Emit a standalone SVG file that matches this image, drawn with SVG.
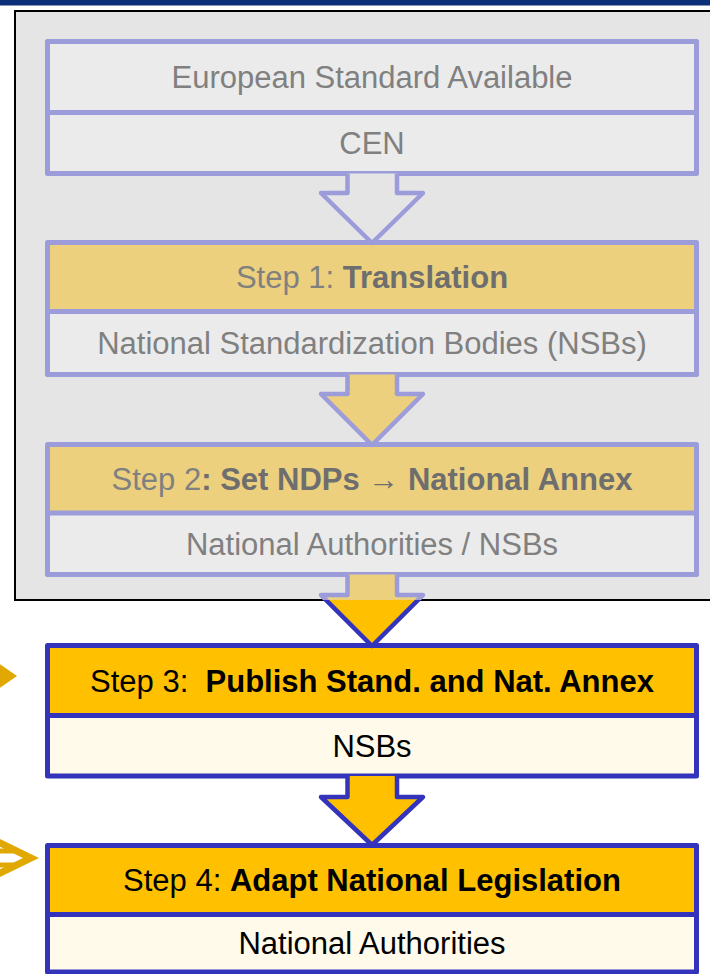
<svg xmlns="http://www.w3.org/2000/svg" width="710" height="974" viewBox="0 0 710 974">
<style>
text{font-family:"Liberation Sans",Arial,sans-serif;font-size:31px;text-anchor:middle;white-space:pre}
.b{font-weight:bold}
.ft{fill:#808080}
.ft .b,.ftb{fill:#6e6e6e}
.nt{fill:#000}
.fbox{stroke:#9c9cdb;stroke-width:5;stroke-linejoin:round}
.nbox{stroke:#3333bb;stroke-width:5;stroke-linejoin:round}
.fyel{fill:#ecd07e}
.fgry{fill:#ebebeb}
.nyel{fill:#ffc000}
.ncrm{fill:#fffaea}
.farr{stroke:#9c9cdb;stroke-width:4.5;stroke-linejoin:round}
.narr{fill:#ffc000;stroke:#3333bb;stroke-width:4.5;stroke-linejoin:round}
.deco{fill:#e0a800}
</style>
<defs>
<clipPath id="clipTop"><rect x="0" y="0" width="710" height="600"/></clipPath>
<clipPath id="clipBottom"><rect x="0" y="600" width="710" height="374"/></clipPath>
</defs>
<rect x="0" y="0" width="710" height="974" fill="#ffffff"/>
<rect id="topbar" x="0" y="0" width="710" height="5.5" fill="#0c2f78"/>
<g id="panel">
<rect x="15" y="11" width="720" height="589" fill="#e5e5e5" stroke="#000" stroke-width="2"/>
</g>
<g id="node-cen">
<rect class="fgry" x="47.5" y="41.5" width="649" height="71"/>
<rect class="fgry" x="47.5" y="112.5" width="649" height="61"/>
<rect class="fbox" fill="none" x="47.5" y="41.5" width="649" height="132"/>
<line class="fbox" x1="47.5" y1="112.5" x2="696.5" y2="112.5"/>
<text class="ft" x="372" y="88">European Standard Available</text>
<text class="ft" x="372" y="154">CEN</text>
</g>
<g id="node-step1">
<rect class="fyel" x="47.5" y="242.5" width="649" height="69"/>
<rect class="fgry" x="47.5" y="311.5" width="649" height="63"/>
<rect class="fbox" fill="none" x="47.5" y="242.5" width="649" height="132"/>
<line class="fbox" x1="47.5" y1="311.5" x2="696.5" y2="311.5"/>
<text class="ft" x="372" y="288">Step 1: <tspan class="b ftb">Translation</tspan></text>
<text class="ft" x="372" y="354">National Standardization Bodies (NSBs)</text>
</g>
<g id="node-step2">
<rect class="fyel" x="47.5" y="444.5" width="649" height="68.5"/>
<rect class="fgry" x="47.5" y="513" width="649" height="61.5"/>
<rect class="fbox" fill="none" x="47.5" y="444.5" width="649" height="130"/>
<line class="fbox" x1="47.5" y1="513" x2="696.5" y2="513"/>
<text class="ft" x="372" y="490">Step 2<tspan class="b ftb">: Set NDPs → National Annex</tspan></text>
<text class="ft" x="372" y="555">National Authorities / NSBs</text>
</g>
<g id="node-step3">
<rect class="nyel" x="47.5" y="645.5" width="649" height="70"/>
<rect class="ncrm" x="47.5" y="715.5" width="649" height="60.5"/>
<rect class="nbox" fill="none" x="47.5" y="645.5" width="649" height="130.5"/>
<line class="nbox" x1="47.5" y1="715.5" x2="696.5" y2="715.5"/>
<text class="nt" x="372" y="691.5" xml:space="preserve">Step 3:  <tspan class="b">Publish Stand. and Nat. Annex</tspan></text>
<text class="nt" x="372" y="757">NSBs</text>
</g>
<g id="node-step4">
<rect class="nyel" x="47.5" y="845.5" width="649" height="69"/>
<rect class="ncrm" x="47.5" y="914.5" width="649" height="57.5"/>
<rect class="nbox" fill="none" x="47.5" y="845.5" width="649" height="126.5"/>
<line class="nbox" x1="47.5" y1="914.5" x2="696.5" y2="914.5"/>
<text class="nt" x="372" y="891">Step 4: <tspan class="b">Adapt National Legislation</tspan></text>
<text class="nt" x="372" y="954">National Authorities</text>
</g>
<g id="connectors">
<path class="farr" fill="#e5e5e5" d="M347.5,173.5 L347.5,193 L321,193 L372,243 L423,193 L397,193 L397,173.5"/>
<path class="farr" fill="#ecd07e" d="M347.5,374.5 L347.5,394 L321,394 L372,445 L423,394 L397,394 L397,374.5"/>
<path class="farr" fill="#ecd07e" clip-path="url(#clipTop)" d="M347.5,574.5 L347.5,595 L321,595 L372,646 L423,595 L397,595 L397,574.5"/>
<path class="narr" clip-path="url(#clipBottom)" d="M347.5,574.5 L347.5,595 L321,595 L372,646 L423,595 L397,595 L397,574.5"/>
<path class="narr" d="M347.5,776 L347.5,797 L321,797 L372,845 L423,797 L397,797 L397,776"/>
</g>
<g id="side-arrows">
<polygon class="deco" points="-12,656 17,676 -12,696"/>
<polyline points="-8,839 31,858 -8,877" fill="none" stroke="#e0a800" stroke-width="7"/>
<line x1="-5" y1="851" x2="14" y2="851" stroke="#e0a800" stroke-width="5"/>
<line x1="-5" y1="865" x2="14" y2="865" stroke="#e0a800" stroke-width="5"/>
</g>
</svg>
